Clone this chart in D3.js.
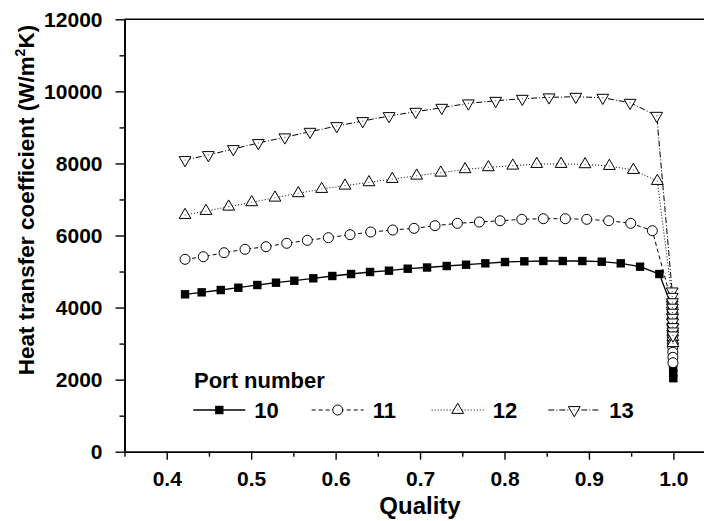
<!DOCTYPE html>
<html>
<head>
<meta charset="utf-8">
<script src="https://cdn.jsdelivr.net/npm/d3@7"></script>
<style>
  html, body { margin: 0; padding: 0; background: #fff; }
  svg { display: block; font-family: "Liberation Sans", Arial, Helvetica, sans-serif; font-weight: bold; }
</style>
</head>
<body>
<svg id="chart" width="704" height="521"></svg>
<script>
// Vapour quality at each measurement point, per port
const quality10 = [0.4217, 0.4414, 0.4640, 0.4848, 0.5073, 0.5294, 0.5511, 0.5736, 0.5961, 0.6183,
  0.6408, 0.6632, 0.6854, 0.7083, 0.7316, 0.7545, 0.7773, 0.8006, 0.8235, 0.8460,
  0.8690, 0.8922, 0.9152, 0.9377, 0.9605, 0.9834,
  0.9985, 0.9986, 0.9987, 0.9988, 0.9989, 0.9990, 0.9991, 0.9992, 0.9993, 0.9994,
  0.9995, 0.9996, 0.9997, 0.9998, 0.9999];
const htc10 = [4368, 4423, 4487, 4551, 4626, 4690, 4745, 4812, 4876, 4931,
  4987, 5023, 5078, 5112, 5153, 5189, 5228, 5264, 5284, 5292,
  5292, 5292, 5273, 5228, 5134, 4931,
  4000, 3860, 3720, 3580, 3440, 3300, 3160, 3020, 2880, 2740,
  2600, 2460, 2320, 2180, 2040];

const quality11 = [0.4217, 0.4433, 0.4679, 0.4927, 0.5176, 0.5421, 0.5665, 0.5914, 0.6171, 0.6416,
  0.6676, 0.6929, 0.7177, 0.7442, 0.7702, 0.7948, 0.8205, 0.8460, 0.8720, 0.8974,
  0.9234, 0.9495, 0.9751,
  0.9985, 0.9986, 0.9987, 0.9988, 0.9989, 0.9990, 0.9991, 0.9992, 0.9993, 0.9994, 0.9995];
const htc11 = [5339, 5411, 5522, 5617, 5689, 5783, 5866, 5939, 6022, 6097,
  6152, 6199, 6272, 6338, 6374, 6410, 6449, 6466, 6466, 6449,
  6410, 6338, 6133,
  4100, 3900, 3700, 3520, 3350, 3190, 3040, 2900, 2760, 2620, 2470];

const quality12 = [0.4217, 0.4465, 0.4734, 0.5006, 0.5282, 0.5558, 0.5835, 0.6111, 0.6395, 0.6671,
  0.6960, 0.7245, 0.7533, 0.7809, 0.8098, 0.8382, 0.8670, 0.8954, 0.9242, 0.9526,
  0.9810,
  0.9986, 0.9987, 0.9988, 0.9989, 0.9990, 0.9991, 0.9992, 0.9993, 0.9994, 0.9995];
const htc12 = [6568, 6679, 6799, 6921, 7049, 7171, 7290, 7382, 7476, 7567,
  7659, 7742, 7837, 7892, 7937, 7984, 7984, 7975, 7928, 7817,
  7512,
  4250, 4080, 3910, 3750, 3600, 3450, 3310, 3180, 3080, 3010];

const quality13 = [0.4217, 0.4493, 0.4789, 0.5085, 0.5399, 0.5697, 0.6013, 0.6321, 0.6633, 0.6949,
  0.7257, 0.7572, 0.7896, 0.8211, 0.8528, 0.8844, 0.9164, 0.9487, 0.9803,
  0.9986, 0.9987, 0.9988, 0.9989, 0.9990, 0.9991, 0.9992, 0.9993, 0.9994, 0.9995];
const htc13 = [8095, 8234, 8400, 8567, 8725, 8880, 9038, 9177, 9316, 9435,
  9546, 9668, 9740, 9796, 9835, 9851, 9824, 9685, 9324,
  4450, 4300, 4150, 4000, 3860, 3720, 3590, 3460, 3340, 3230];

const portNames = ["10", "11", "12", "13"];
const xMajorTicks = [0.4, 0.5, 0.6, 0.7, 0.8, 0.9, 1.0];
const xMinorTicks = [0.35, 0.45, 0.55, 0.65, 0.75, 0.85, 0.95];
const yMajorTicks = [0, 2000, 4000, 6000, 8000, 10000, 12000];
const yMinorTicks = [1000, 3000, 5000, 7000, 9000, 11000];

const svg = d3.select("#chart");
const plotLeft = 124.5, plotRight = 715.6, plotTop = 19.3, plotBottom = 451.7;

const x = d3.scaleLinear().domain([0.35, 1.05]).range([plotLeft, plotRight]);
const y = d3.scaleLinear().domain([0, 12000]).range([plotBottom, plotTop]);

// series styles: line dash and marker kind
const series = [
  { name: portNames[0], q: quality10, h: htc10, dash: null,      marker: "square" },
  { name: portNames[1], q: quality11, h: htc11, dash: "4,3",     marker: "circle" },
  { name: portNames[2], q: quality12, h: htc12, dash: "1,2",     marker: "up" },
  { name: portNames[3], q: quality13, h: htc13, dash: "6,2,1,2", marker: "down" }
];

function drawMarker(g, kind, cx, cy) {
  if (kind === "square") {
    const a = 8.4;
    g.append("rect").attr("x", cx - a / 2).attr("y", cy - a / 2)
      .attr("width", a).attr("height", a).attr("fill", "#000");
  } else if (kind === "circle") {
    g.append("circle").attr("cx", cx).attr("cy", cy).attr("r", 5)
      .attr("fill", "#fff").attr("stroke", "#000").attr("stroke-width", 1);
  } else {
    const sym = d3.symbol().type(d3.symbolTriangle).size(60);
    g.append("path").attr("d", sym())
      .attr("transform", `translate(${cx},${cy})` + (kind === "down" ? " rotate(180)" : ""))
      .attr("fill", "#fff").attr("stroke", "#000").attr("stroke-width", 1);
    g.append("rect").attr("x", cx - 0.5).attr("y", cy - 0.5)
      .attr("width", 1).attr("height", 1).attr("fill", "#444");
  }
}

// axes
const axisG = svg.append("g");
axisG.append("g").attr("transform", `translate(0,${plotBottom})`)
  .call(d3.axisBottom(x).tickValues(xMajorTicks).tickSize(8).tickSizeOuter(0).tickPadding(11)
    .tickFormat(d3.format(".1f")));
axisG.append("g").attr("transform", `translate(0,${plotBottom})`)
  .call(d3.axisBottom(x).tickValues(xMinorTicks).tickSize(5).tickSizeOuter(0).tickFormat(""));
axisG.append("g").attr("transform", `translate(${plotLeft},0)`)
  .call(d3.axisLeft(y).tickValues(yMajorTicks).tickSize(9).tickSizeOuter(0).tickPadding(13)
    .tickFormat(d3.format("d")));
axisG.append("g").attr("transform", `translate(${plotLeft},0)`)
  .call(d3.axisLeft(y).tickValues(yMinorTicks).tickSize(5).tickSizeOuter(0).tickFormat(""));
axisG.append("line").attr("class", "frame")
  .attr("x1", plotLeft).attr("x2", plotRight).attr("y1", plotTop).attr("y2", plotTop);

axisG.selectAll(".domain").attr("stroke", "#000").attr("stroke-width", 1.6);
axisG.selectAll(".frame").attr("stroke", "#000").attr("stroke-width", 1.6);
axisG.selectAll(".tick line").attr("stroke", "#000").attr("stroke-width", 1.4);
axisG.selectAll(".tick text").attr("fill", "#000")
  .attr("font-size", 21).attr("font-weight", "bold")
  .attr("font-family", "'Liberation Sans', Arial, sans-serif");

// axis titles
svg.append("text").attr("x", (plotLeft + plotRight) / 2).attr("y", 514)
  .attr("text-anchor", "middle").attr("font-size", 24).text("Quality");

const yTitle = svg.append("text")
  .attr("transform", `translate(34,200) rotate(-90)`)
  .attr("text-anchor", "middle").attr("font-size", 22.5);
yTitle.append("tspan").text("Heat transfer coefficient (W/m");
yTitle.append("tspan").attr("font-size", 14).attr("dy", -9).text("2");
yTitle.append("tspan").attr("dy", 9).text("K)");

// series lines and markers
const line = d3.line().x(d => d[0]).y(d => d[1]);
series.forEach(s => {
  const pts = s.q.map((q, i) => [x(q), y(s.h[i])]);
  const g = svg.append("g");
  g.append("path").attr("d", line(pts)).attr("fill", "none").attr("stroke", "#000")
    .attr("stroke-width", s.marker === "square" ? 1.3 : 1)
    .attr("stroke-dasharray", s.dash);
  pts.forEach(p => drawMarker(g, s.marker, p[0], p[1]));
});

// legend
const legend = svg.append("g");
legend.append("text").attr("x", 194).attr("y", 388).attr("font-size", 22).text("Port number");
const legendX = [193.3, 311.7, 431.7, 548.3];
series.forEach((s, i) => {
  const lx = legendX[i], ly = 410;
  legend.append("line").attr("x1", lx).attr("x2", lx + 52).attr("y1", ly).attr("y2", ly)
    .attr("stroke", "#000").attr("stroke-width", s.marker === "square" ? 1.3 : 1)
    .attr("stroke-dasharray", s.dash);
  drawMarker(legend, s.marker, lx + 26, ly);
  legend.append("text").attr("x", lx + 61).attr("y", 418).attr("font-size", 22).text(s.name);
});
</script>
</body>
</html>
